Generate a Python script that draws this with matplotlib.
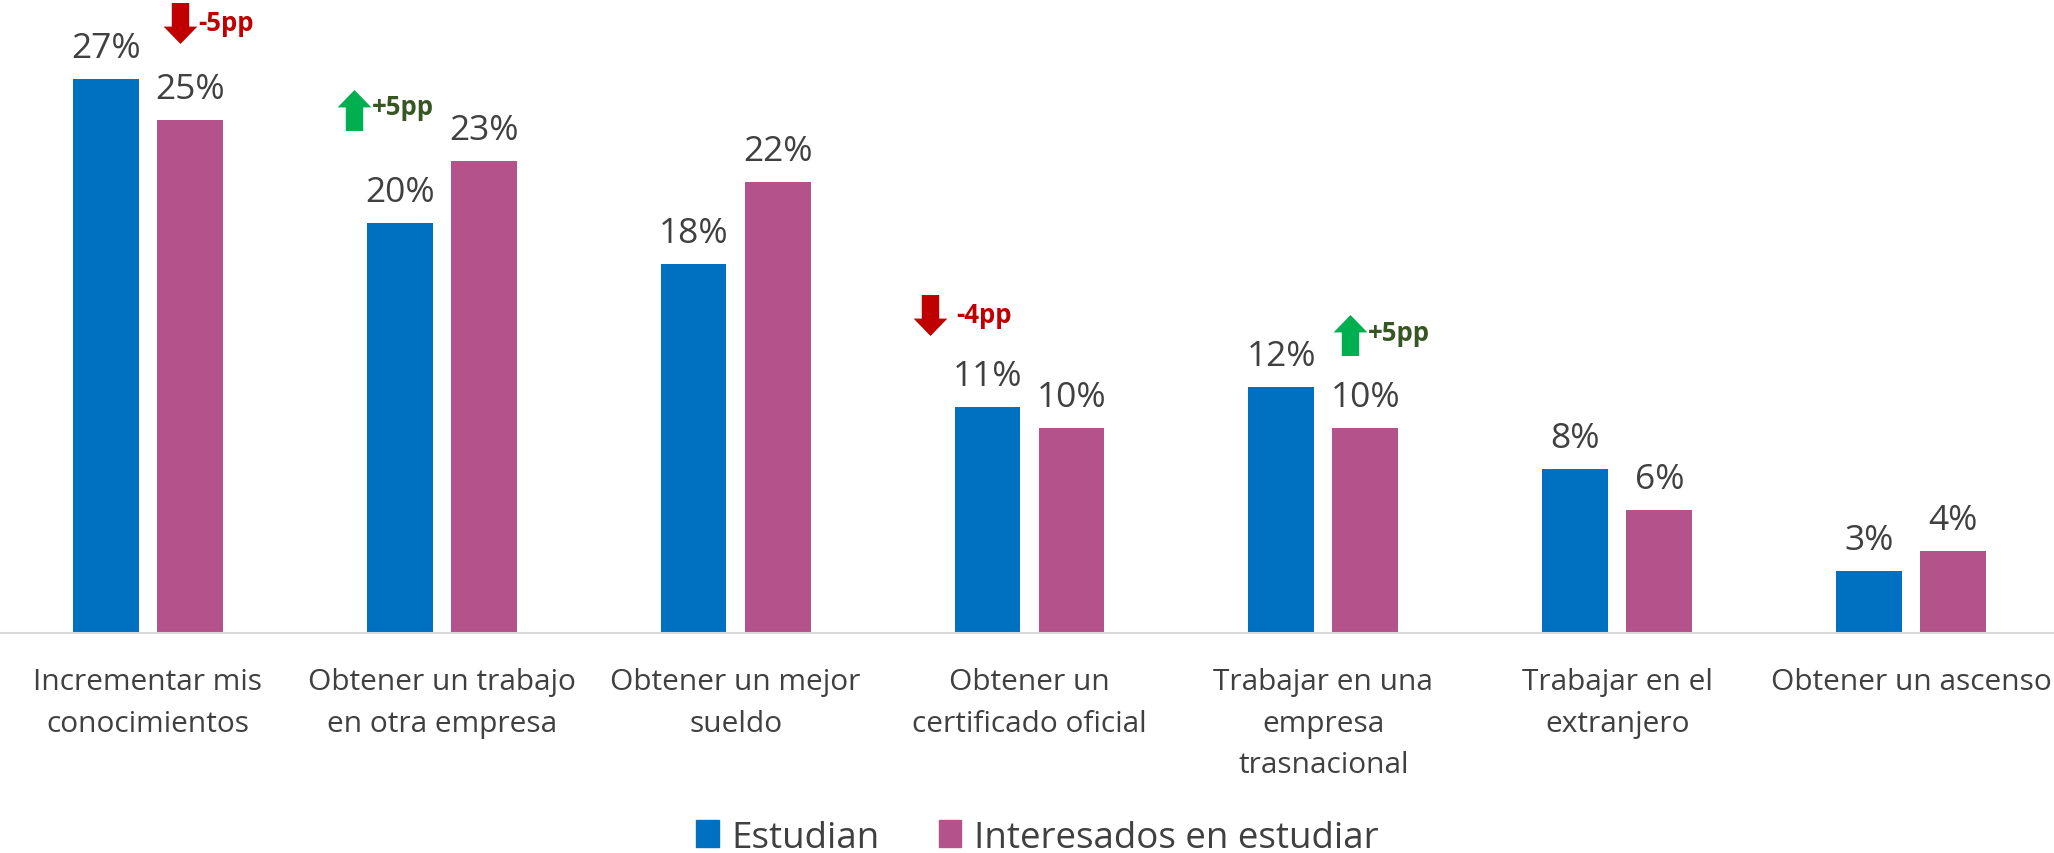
import matplotlib
matplotlib.use("Agg")
import matplotlib.pyplot as plt
import numpy as np
from matplotlib.path import Path
from matplotlib.patches import Patch

plt.rcParams['font.family'] = ['Open Sans', 'DejaVu Sans']

categories = ["Incrementar mis\nconocimientos", "Obtener un trabajo\nen otra empresa",
              "Obtener un mejor\nsueldo", "Obtener un\ncertificado oficial",
              "Trabajar en una\nempresa\ntrasnacional", "Trabajar en el\nextranjero",
              "Obtener un ascenso"]
estudian = [27, 20, 18, 11, 12, 8, 3]
interesados = [25, 23, 22, 10, 10, 6, 4]
series_names = ["Estudian", "Interesados en estudiar"]

# change annotations: text, direction
ann_text = ["-5pp", "+5pp", "-4pp", "+5pp"]
ann_dir = ["down", "up", "down", "up"]
# annotation anchor positions (layout, data coords) and text offsets (points)
ann_x = [0.11, 0.70, 2.66, 4.09]
ann_y = [29.75, 25.5, 15.5, 14.5]
ann_dx = [13, 13, 19, 13]

BLUE = "#0070C0"
PINK = "#B4528B"
TXT = "#404040"
RED = "#C00000"
GREEN = "#00B050"
DKGREEN = "#375623"

fig = plt.figure(figsize=(20.54, 8.54), dpi=100)
ax = fig.add_axes([0, 0.258, 1, 0.742])

x = np.arange(len(categories))
w = 0.224
off = 0.143
b1 = ax.bar(x - off, estudian, w, color=BLUE)
b2 = ax.bar(x + off, interesados, w, color=PINK)
for cont, vals in ((b1, estudian), (b2, interesados)):
    ax.bar_label(cont, labels=[f"{v}%" for v in vals], padding=10,
                 fontsize=25.5, color=TXT)

ax.set_xlim(-0.503, 6.486)
ax.set_ylim(0, 30.9)
ax.set_yticks([])
for s in ["top", "right", "left"]:
    ax.spines[s].set_visible(False)
ax.spines["bottom"].set_color("#D9D9D9")
ax.spines["bottom"].set_linewidth(1.5)
ax.set_xticks(x)
ax.set_xticklabels(categories, fontsize=21.5, color=TXT, linespacing=1.56)
ax.tick_params(axis='x', length=0, pad=25)

# arrow marker paths
def arrow_path(up):
    hw, sw, hh, total = 16.5, 8.5, 17, 40
    top, bot = total / 2, -total / 2
    if up:
        verts = [(0, top), (hw, top - hh), (sw, top - hh), (sw, bot), (-sw, bot),
                 (-sw, top - hh), (-hw, top - hh), (0, top)]
    else:
        verts = [(0, bot), (hw, bot + hh), (sw, bot + hh), (sw, top), (-sw, top),
                 (-sw, bot + hh), (-hw, bot + hh), (0, bot)]
    codes = [Path.MOVETO] + [Path.LINETO] * 6 + [Path.CLOSEPOLY]
    return Path(verts, codes)

for t, d, ax_x, ax_y, dx in zip(ann_text, ann_dir, ann_x, ann_y, ann_dx):
    up = d == "up"
    col = GREEN if up else RED
    tcol = DKGREEN if up else RED
    ax.plot([ax_x], [ax_y], marker=arrow_path(up), markersize=29.5, color=col,
            markeredgewidth=0, clip_on=False, linestyle='none')
    ax.annotate(t, (ax_x, ax_y), xytext=(dx, 0 if not up else 2), textcoords='offset points',
                fontsize=18.5, fontweight='bold', color=tcol, va='center', ha='left',
                annotation_clip=False)

handles = [Patch(color=BLUE), Patch(color=PINK)]
fig.legend(handles, series_names, loc='center', bbox_to_anchor=(0.505, 0.018),
           ncol=2, frameon=False, fontsize=26.5, labelcolor=TXT,
           handlelength=0.62, handleheight=0.75, handletextpad=0.35,
           columnspacing=1.6, borderpad=0)

fig.savefig("out.png", dpi=100)
